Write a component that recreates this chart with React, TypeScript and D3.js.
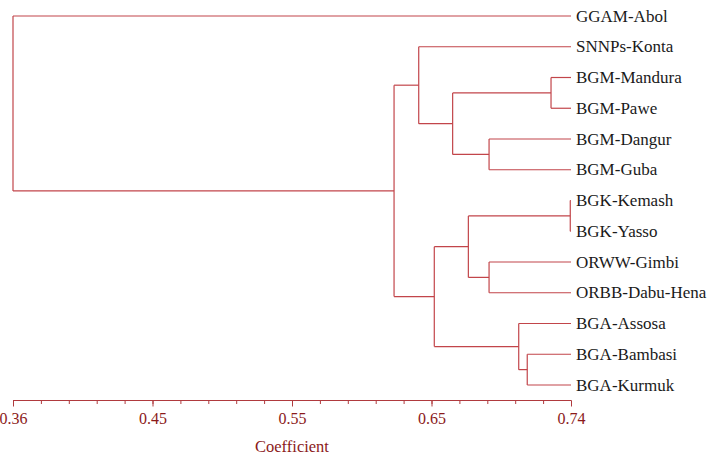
import React, { useEffect, useRef } from "react";
import * as d3 from "d3";

// Leaves in display order (top to bottom)
const leafNames = [
  "GGAM-Abol",
  "SNNPs-Konta",
  "BGM-Mandura",
  "BGM-Pawe",
  "BGM-Dangur",
  "BGM-Guba",
  "BGK-Kemash",
  "BGK-Yasso",
  "ORWW-Gimbi",
  "ORBB-Dabu-Hena",
  "BGA-Assosa",
  "BGA-Bambasi",
  "BGA-Kurmuk",
];

// Cluster merges: [id, left child, right child, coefficient]
const mergeIds = ["c1", "c2", "c3", "c4", "c5", "c6", "c7", "c8", "c9", "c10", "c11", "root"];
const mergeLeft = ["BGM-Mandura", "BGM-Dangur", "c1", "SNNPs-Konta", "BGK-Kemash", "ORWW-Gimbi", "c5", "BGA-Bambasi", "BGA-Assosa", "c7", "c4", "GGAM-Abol"];
const mergeRight = ["BGM-Pawe", "BGM-Guba", "c2", "c3", "BGK-Yasso", "ORBB-Dabu-Hena", "c6", "BGA-Kurmuk", "c8", "c9", "c10", "c11"];
const mergeValues = [0.7264, 0.6842, 0.6594, 0.6363, 0.7395, 0.6842, 0.6701, 0.7102, 0.7044, 0.6469, 0.6195, 0.36];

// Axis
const majorTicks = [0.36, 0.455, 0.55, 0.645, 0.74];
const majorTickLabels = ["0.36", "0.45", "0.55", "0.65", "0.74"];
const minorStep = 0.019;
const axisTitle = "Coefficient";

const W = 709;
const H = 457;
const LINE = "#c2454a";
const AXIS = "#b03a3e";
const TICKTXT = "#8b1a1a";
const FONT = "'Liberation Serif', 'Times New Roman', serif";

type Node = { name: string; value: number; children?: Node[] };

function buildTree(): Node {
  const map = new Map<string, Node>();
  leafNames.forEach((n) => map.set(n, { name: n, value: 0.74 }));
  mergeIds.forEach((id, i) => {
    map.set(id, {
      name: id,
      value: mergeValues[i],
      children: [map.get(mergeLeft[i])!, map.get(mergeRight[i])!],
    });
  });
  return map.get("root")!;
}

export default function App() {
  const axisRef = useRef<SVGGElement>(null);

  const x = d3.scaleLinear().domain([0.36, 0.74]).range([13, 571]);
  const y = d3.scalePoint<string>().domain(leafNames).range([16, 385]);

  const root = d3.hierarchy<Node>(buildTree());
  const pos = new Map<any, { x: number; y: number }>();
  root.eachAfter((n) => {
    if (!n.children) {
      pos.set(n, { x: x(0.74), y: y(n.data.name)! });
    } else {
      const ys = n.children.map((c) => pos.get(c)!.y);
      pos.set(n, { x: x(n.data.value), y: d3.mean(ys)! });
    }
  });

  const links: string[] = [];
  root.each((n) => {
    if (n.children) {
      const p = pos.get(n)!;
      const ys = n.children.map((c) => pos.get(c)!.y);
      links.push(`M${p.x},${d3.min(ys)}V${d3.max(ys)}`);
      n.children.forEach((c) => {
        const cp = pos.get(c)!;
        links.push(`M${p.x},${cp.y}H${cp.x}`);
      });
    }
  });

  const leaves = root.leaves();

  useEffect(() => {
    const g = d3.select(axisRef.current!);
    g.selectAll("*").remove();
    const minorTicks = d3.range(0, 21).map((i) => 0.36 + i * minorStep);
    const minorAxis = d3.axisBottom(x).tickValues(minorTicks).tickSize(3.5).tickFormat(() => "");
    const gMinor = g.append("g").call(minorAxis);
    gMinor.select(".domain").remove();
    gMinor.selectAll("line").attr("stroke", AXIS);
    const majorAxis = d3
      .axisBottom(x)
      .tickValues(majorTicks)
      .tickSize(6)
      .tickSizeOuter(0)
      .tickPadding(6)
      .tickFormat((_, i) => majorTickLabels[i]);
    const gMajor = g.append("g").call(majorAxis);
    gMajor.select(".domain").attr("stroke", AXIS).attr("d", `M${x(0.36)},0H${x(0.74)}`);
    gMajor.selectAll("line").attr("stroke", AXIS);
    gMajor
      .selectAll("text")
      .attr("fill", TICKTXT)
      .attr("font-family", FONT)
      .attr("font-size", 16)
      .attr("dy", "0.71em");
  }, []);

  return (
    <svg
      width={W}
      height={H}
      style={{ position: "absolute", left: 0, top: 0, background: "#fff" }}
    >
      <g fill="none" stroke={LINE} strokeWidth={1.2}>
        {links.map((d, i) => (
          <path key={i} d={d} />
        ))}
      </g>
      {leaves.map((l) => (
        <text
          key={l.data.name}
          x={576}
          y={pos.get(l)!.y + 5.5}
          fontFamily={FONT}
          fontSize={17}
          fill="#1a1a1a"
        >
          {l.data.name}
        </text>
      ))}
      <g ref={axisRef} transform="translate(0,400.5)" />
      <text
        x={x(0.55)}
        y={452}
        textAnchor="middle"
        fontFamily={FONT}
        fontSize={16.5}
        fill={TICKTXT}
      >
        {axisTitle}
      </text>
    </svg>
  );
}
